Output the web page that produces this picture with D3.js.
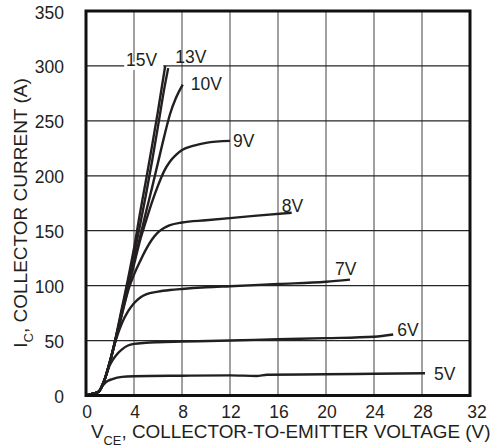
<!DOCTYPE html>
<html>
<head>
<meta charset="utf-8">
<script src="https://cdn.jsdelivr.net/npm/d3@7"></script>
<style>
  html, body { margin: 0; padding: 0; background: #fff; }
  svg { display: block; font-family: "Liberation Sans", Arial, sans-serif; }
</style>
</head>
<body>
<svg id="chart" width="495" height="447"></svg>
<script>
// Tick values
const xTicks = [0, 4, 8, 12, 16, 20, 24, 28, 32];
const yTicks = [0, 50, 100, 150, 200, 250, 300, 350];

// Gate voltage of each curve
const gateLabels = ['15V', '13V', '10V', '9V', '8V', '7V', '6V', '5V'];

// Curve points as [VCE (V), IC (A)]
const curve15V = [[0, 0], [0.5, 1.5], [1.05, 3.5], [1.5, 13], [2, 31], [2.5, 54], [3, 80], [3.5, 106], [4, 134], [4.5, 166], [5, 196], [5.5, 227], [6, 259], [6.6, 300]];
const curve13V = [[0, 0], [0.5, 1.5], [1.05, 3.5], [1.5, 13], [2, 31], [2.5, 53], [3, 78], [3.5, 103], [4, 128], [4.5, 155], [5, 183], [5.5, 213], [6, 245], [6.5, 278], [6.85, 298]];
const curve10V = [[0, 0], [0.5, 1.5], [1.05, 3.5], [1.5, 13], [2, 31], [2.5, 53], [3, 77], [3.5, 100], [4, 122], [4.5, 144], [5, 167], [5.5, 189], [6, 212], [6.5, 235], [7, 256], [7.5, 271], [8.06, 283]];
const curve9V = [[0, 0], [0.5, 1.5], [1.05, 3.5], [1.5, 13], [2, 31], [2.5, 52], [3, 75], [3.5, 97], [4, 119], [4.5, 141], [5, 159], [5.5, 176], [6, 191], [6.5, 204], [7, 213], [7.5, 219], [8, 223.5], [9, 227.5], [10, 230], [12, 231.8]];
const curve8V = [[0, 0], [0.5, 1.5], [1.05, 3.5], [1.5, 13], [2, 31], [2.5, 52], [3, 74], [3.5, 95], [4, 110], [4.5, 122], [5, 133], [5.5, 142], [6, 148.5], [6.5, 152.5], [7, 155], [8, 157.5], [10, 159.5], [12, 161.5], [14, 163.5], [17.14, 166.3]];
const curve7V = [[0, 0], [0.5, 1.5], [1.05, 3.5], [1.5, 13], [2, 31], [2.5, 51], [3, 66], [3.5, 76.5], [4, 84], [4.5, 89], [5, 92], [6, 94.5], [7, 96], [8, 97], [10, 98.5], [12, 99.5], [16, 101.5], [20, 103.5], [22, 105.5]];
const curve6V = [[0, 0], [0.5, 1.5], [1.05, 3.5], [1.5, 13], [2, 28], [2.5, 36.5], [3, 42], [3.5, 45.5], [4, 47], [5, 48], [6, 48.5], [8, 49], [12, 50], [16, 51.2], [20, 52.2], [24, 53.5], [25.6, 55.5]];
const curve5V = [[0, 0], [0.5, 1.5], [1.05, 3.5], [1.4, 9], [1.7, 12.5], [2.2, 15], [3, 17], [4, 17.5], [8, 18], [12, 18.3], [14.2, 17.8], [15.1, 18.9], [20, 19.3], [24, 19.8], [28.25, 20.3]];

const curves = [curve15V, curve13V, curve10V, curve9V, curve8V, curve7V, curve6V, curve5V];

// Label placement relative to the curve end (pixels)
const labelPlacement = [
    { dx: -8, dy: 0, anchor: 'end' },
    { dx: 7, dy: -5, anchor: 'start' },
    { dx: 8, dy: 5, anchor: 'start' },
    { dx: 3, dy: 6, anchor: 'start' },
    { dx: -10, dy: -1, anchor: 'start' },
    { dx: -15, dy: -4.5, anchor: 'start' },
    { dx: 4, dy: 1.5, anchor: 'start' },
    { dx: 9, dy: 7, anchor: 'start' }
];

const svg = d3.select('#chart');
const plotLeft = 86, plotRight = 470, plotTop = 11, plotBottom = 395.5;

const x = d3.scaleLinear().domain([0, 32]).range([plotLeft, plotRight]);
const y = d3.scaleLinear().domain([0, 350]).range([plotBottom, plotTop]);

const ink = '#231f20';

// Vertical grid lines (grey)
svg.append('g')
    .selectAll('line')
    .data(xTicks.slice(1, -1))
    .enter()
    .append('line')
    .attr('x1', d => x(d))
    .attr('x2', d => x(d))
    .attr('y1', plotTop)
    .attr('y2', plotBottom)
    .attr('stroke', '#808080')
    .attr('stroke-width', 1.5);

// Horizontal grid lines (dark)
svg.append('g')
    .selectAll('line')
    .data(yTicks.slice(1, -1))
    .enter()
    .append('line')
    .attr('x1', plotLeft)
    .attr('x2', plotRight)
    .attr('y1', d => y(d))
    .attr('y2', d => y(d))
    .attr('stroke', '#262626')
    .attr('stroke-width', 1.3);

// White box behind the 15V label, hiding the grid line
const end15 = curve15V[curve15V.length - 1];
svg.append('rect')
    .attr('x', x(end15[0]) - 41)
    .attr('y', y(end15[1]) - 4)
    .attr('width', 39)
    .attr('height', 8)
    .attr('fill', '#fff');

// Curves
const line = d3.line()
    .x(d => x(d[0]))
    .y(d => y(d[1]))
    .curve(d3.curveMonotoneX);

svg.append('g')
    .selectAll('path')
    .data(curves)
    .enter()
    .append('path')
    .attr('d', line)
    .attr('fill', 'none')
    .attr('stroke', ink)
    .attr('stroke-width', 2.4)
    .attr('stroke-linejoin', 'round')
    .attr('stroke-linecap', 'butt');

// Frame
svg.append('rect')
    .attr('x', plotLeft)
    .attr('y', plotTop)
    .attr('width', plotRight - plotLeft)
    .attr('height', plotBottom - plotTop)
    .attr('fill', 'none')
    .attr('stroke', '#111')
    .attr('stroke-width', 3);

// Curve labels
svg.append('g')
    .selectAll('text')
    .data(curves)
    .enter()
    .append('text')
    .attr('x', (d, i) => x(d[d.length - 1][0]) + labelPlacement[i].dx)
    .attr('y', (d, i) => y(d[d.length - 1][1]) + labelPlacement[i].dy)
    .attr('text-anchor', (d, i) => labelPlacement[i].anchor)
    .attr('font-size', 17.5)
    .attr('fill', ink)
    .text((d, i) => gateLabels[i]);

// Y tick labels
svg.append('g')
    .selectAll('text')
    .data(yTicks)
    .enter()
    .append('text')
    .attr('x', plotLeft - 22)
    .attr('y', d => y(d) + 7.5)
    .attr('text-anchor', 'end')
    .attr('font-size', 17.5)
    .attr('fill', ink)
    .text(d => d);

// X tick labels (the last one sits a little to the right)
svg.append('g')
    .selectAll('text')
    .data(xTicks)
    .enter()
    .append('text')
    .attr('x', (d, i) => x(d) + (i === xTicks.length - 1 ? 7 : 1))
    .attr('y', 417.5)
    .attr('text-anchor', 'middle')
    .attr('font-size', 17.5)
    .attr('fill', ink)
    .text(d => d);

// X axis title
const xTitle = svg.append('text')
    .attr('x', 91)
    .attr('y', 438)
    .attr('font-size', 18.9)
    .attr('fill', ink);
xTitle.append('tspan').text('V');
xTitle.append('tspan').attr('font-size', 12.8).attr('dy', 7).text('CE');
xTitle.append('tspan').attr('dy', -7).text(', COLLECTOR-TO-EMITTER VOLTAGE (V)');

// Y axis title
const yTitle = svg.append('text')
    .attr('transform', 'translate(27,213) rotate(-90)')
    .attr('text-anchor', 'middle')
    .attr('font-size', 19)
    .attr('fill', ink);
yTitle.append('tspan').text('I');
yTitle.append('tspan').attr('font-size', 13).attr('dy', 6).text('C');
yTitle.append('tspan').attr('dy', -6).text(', COLLECTOR CURRENT (A)');
</script>
</body>
</html>
